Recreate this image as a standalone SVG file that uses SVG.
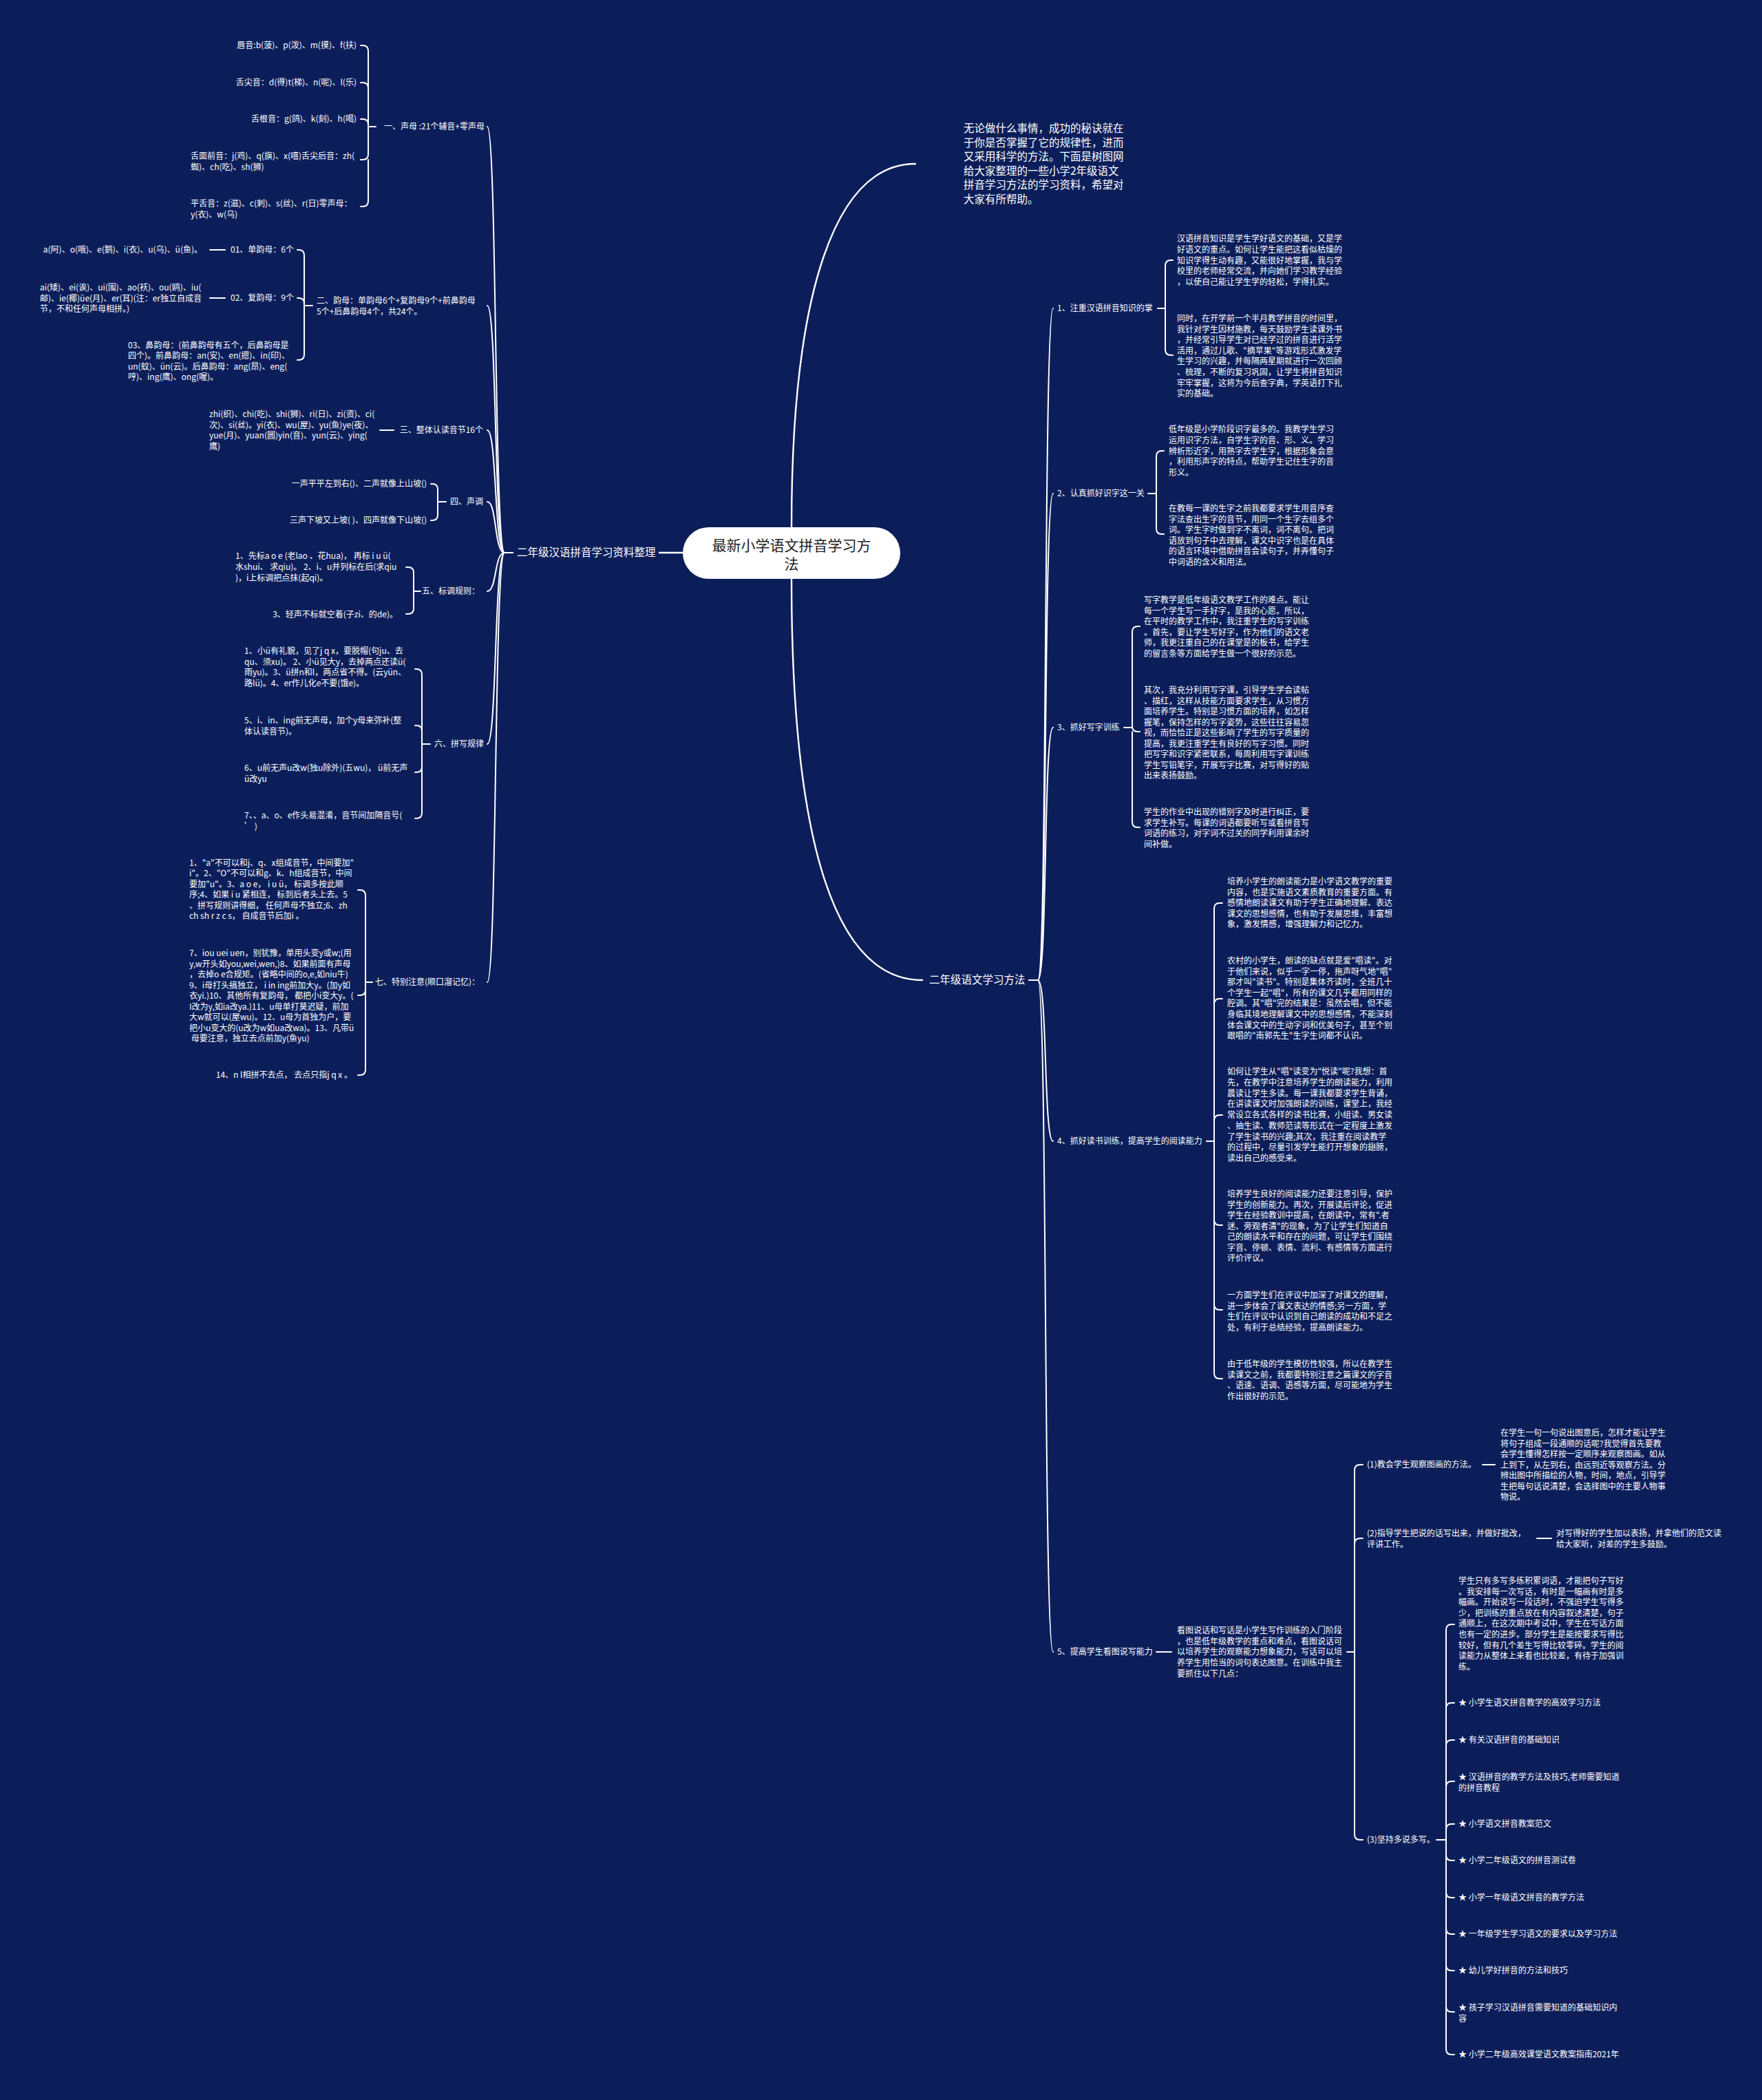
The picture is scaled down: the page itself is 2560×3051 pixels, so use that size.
<svg xmlns="http://www.w3.org/2000/svg" width="2560" height="3051" viewBox="0 0 2560 3051">
<style>
.t{font-family:"Noto Sans CJK SC","Noto Sans",sans-serif;font-size:12px;fill:#ffffff}
.m{font-size:15.5px}
.e{text-anchor:end}
.ln{fill:none;stroke:#ffffff;stroke-width:2;stroke-linecap:round}
.lm{fill:none;stroke:#ffffff;stroke-width:2.4;stroke-linecap:round}
</style>
<rect width="2560" height="3051" fill="#0c1e5a"/>
<g id="connectors">
<path class="lm" d="M1150,766 C1150,420 1215,238 1330,238"/>
<path class="lm" d="M1150,841 C1150,1230 1215,1424 1340,1424"/>
<path class="lm" d="M992,803 H958"/>
<path class="ln" d="M1495,1424 H1508 C1522,1424 1516,448 1530,448"/>
<path class="ln" d="M1495,1424 H1508 C1522,1424 1516,717 1530,717"/>
<path class="ln" d="M1495,1424 H1508 C1522,1424 1516,1057 1530,1057"/>
<path class="ln" d="M1495,1424 H1508 C1522,1424 1516,1658 1530,1658"/>
<path class="ln" d="M1495,1424 H1508 C1522,1424 1516,2400 1530,2400"/>
<path class="ln" d="M745,803 H733 C718,803 722,184 708,184"/>
<path class="ln" d="M745,803 H733 C718,803 722,444 708,444"/>
<path class="ln" d="M745,803 H733 C718,803 722,625 708,625"/>
<path class="ln" d="M745,803 H733 C718,803 722,729 708,729"/>
<path class="ln" d="M745,803 H733 C718,803 722,859 708,859"/>
<path class="ln" d="M745,803 H733 C718,803 722,1081 708,1081"/>
<path class="ln" d="M745,803 H733 C718,803 722,1427 708,1427"/>
<path class="ln" d="M1682,448 H1693 V386 Q1693,378 1701,378 H1704 M1693,448 V508 Q1693,516 1701,516 H1704"/>
<path class="ln" d="M1668,717 H1680 V663 Q1680,655 1688,655 H1691 M1680,717 V768 Q1680,776 1688,776 H1691"/>
<path class="ln" d="M1633,1057 H1645 V918 Q1645,910 1653,910 H1656 M1645,1057 V1055 Q1645,1063 1653,1063 H1656 M1645,1063 V1194 Q1645,1202 1653,1202 H1656"/>
<path class="ln" d="M1753,1658 H1764 V1320 Q1764,1312 1772,1312 H1776 M1764,1459 Q1764,1451 1772,1451 H1776 M1764,1628 Q1764,1620 1772,1620 H1776 M1764,1772 Q1764,1780 1772,1780 H1776 M1764,1895 Q1764,1903 1772,1903 H1776 M1764,1658 V1995 Q1764,2003 1772,2003 H1776"/>
<path class="ln" d="M1680,2400 H1702"/>
<path class="ln" d="M1957,2400 H1968 V2136 Q1968,2128 1976,2128 H1980 M1968,2243 Q1968,2235 1976,2235 H1980 M1968,2400 V2665 Q1968,2673 1976,2673 H1980"/>
<path class="ln" d="M2154,2128 H2172"/>
<path class="ln" d="M2233,2235 H2254"/>
<path class="ln" d="M2087,2673 H2101 V2368 Q2101,2360 2109,2360 H2113 M2101,2482 Q2101,2474 2109,2474 H2113 M2101,2536 Q2101,2528 2109,2528 H2113 M2101,2596 Q2101,2588 2109,2588 H2113 M2101,2658 Q2101,2650 2109,2650 H2113 M2101,2695 Q2101,2703 2109,2703 H2113 M2101,2749 Q2101,2757 2109,2757 H2113 M2101,2802 Q2101,2810 2109,2810 H2113 M2101,2855 Q2101,2863 2109,2863 H2113 M2101,2915 Q2101,2923 2109,2923 H2113 M2101,2673 V2977 Q2101,2985 2109,2985 H2113"/>
<path class="ln" d="M546,184 H535 V74 Q535,66 527,66 H524 M535,128 Q535,120 527,120 H524 M535,181 Q535,173 527,173 H524 M535,184 V224 Q535,232 527,232 H524 M535,232 V292 Q535,300 527,300 H524"/>
<path class="ln" d="M454,444 H442 V371 Q442,363 434,363 H432 M442,441 Q442,433 434,433 H432 M442,444 V515 Q442,523 434,523 H432"/>
<path class="ln" d="M327,363 H305 M327,433 H305"/>
<path class="ln" d="M572,625 H552"/>
<path class="ln" d="M648,729 H636 V711 Q636,703 628,703 H626 M636,729 V748 Q636,756 628,756 H626"/>
<path class="ln" d="M611,859 H601 V832 Q601,824 593,824 H590 M601,859 V884 Q601,892 593,892 H590"/>
<path class="ln" d="M625,1081 H613 V980 Q613,972 605,972 H603 M613,1062 Q613,1054 605,1054 H603 M613,1114 Q613,1122 605,1122 H603 M613,1081 V1181 Q613,1189 605,1189 H603"/>
<path class="ln" d="M541,1427 H531 V1301 Q531,1293 523,1293 H520 M531,1438 Q531,1446 523,1446 H520 M531,1427 V1554 Q531,1562 523,1562 H520"/>
</g>
<g id="root">
<rect x="992" y="766" width="316" height="75" rx="37.5" fill="#ffffff"/>
<text x="1150" y="800" text-anchor="middle" style="font-family:'Noto Sans CJK SC',sans-serif;font-size:21px;fill:#222222">最新小学语文拼音学习方</text>
<text x="1150" y="827" text-anchor="middle" style="font-family:'Noto Sans CJK SC',sans-serif;font-size:21px;fill:#222222">法</text>
</g>
<g id="intro">
<text class="t m" x="1400" y="192"><tspan x="1400" dy="0">无论做什么事情，成功的秘诀就在</tspan><tspan x="1400" dy="20.6">于你是否掌握了它的规律性，进而</tspan><tspan x="1400" dy="20.6">又采用科学的方法。下面是树图网</tspan><tspan x="1400" dy="20.6">给大家整理的一些小学2年级语文</tspan><tspan x="1400" dy="20.6">拼音学习方法的学习资料，希望对</tspan><tspan x="1400" dy="20.6">大家有所帮助。</tspan></text>
</g>
<g id="right-main"><text class="t m" x="1350" y="1429">二年级语文学习方法</text></g>
<g id="left-main"><text class="t m" x="751" y="808">二年级汉语拼音学习资料整理</text></g>

<g id="r1"><text class="t" x="1536" y="452">1、注重汉语拼音知识的掌</text></g>
<g id="r1a"><text class="t" x="1710" y="351"><tspan x="1710" dy="0">汉语拼音知识是学生学好语文的基础，又是学</tspan><tspan x="1710" dy="15.8">好语文的重点。如何让学生能把这看似枯燥的</tspan><tspan x="1710" dy="15.8">知识学得生动有趣，又能很好地掌握，我与学</tspan><tspan x="1710" dy="15.8">校里的老师经常交流，并向她们学习教学经验</tspan><tspan x="1710" dy="15.8">，以使自己能让学生学的轻松，学得扎实。</tspan></text></g>
<g id="r1b"><text class="t" x="1710" y="467"><tspan x="1710" dy="0">同时，在开学前一个半月教学拼音的时间里，</tspan><tspan x="1710" dy="15.6">我针对学生因材施教，每天鼓励学生读课外书</tspan><tspan x="1710" dy="15.6">，并经常引导学生对已经学过的拼音进行活学</tspan><tspan x="1710" dy="15.6">活用，通过儿歌、"摘苹果"等游戏形式激发学</tspan><tspan x="1710" dy="15.6">生学习的兴趣，并每隔两星期就进行一次回顾</tspan><tspan x="1710" dy="15.6">、梳理，不断的复习巩固，让学生将拼音知识</tspan><tspan x="1710" dy="15.6">牢牢掌握，这将为今后查字典，学英语打下扎</tspan><tspan x="1710" dy="15.6">实的基础。</tspan></text></g>

<g id="r2"><text class="t" x="1536" y="721">2、认真抓好识字这一关</text></g>
<g id="r2a"><text class="t" x="1698" y="628"><tspan x="1698" dy="0">低年级是小学阶段识字最多的。我教学生学习</tspan><tspan x="1698" dy="15.75">运用识字方法，自学生字的音、形、义。学习</tspan><tspan x="1698" dy="15.75">辨析形近字，用熟字去学生字，根据形象会意</tspan><tspan x="1698" dy="15.75">，利用形声字的特点，帮助学生记住生字的音</tspan><tspan x="1698" dy="15.75">形义。</tspan></text></g>
<g id="r2b"><text class="t" x="1698" y="743"><tspan x="1698" dy="0">在教每一课的生字之前我都要求学生用音序查</tspan><tspan x="1698" dy="15.6">字法查出生字的音节，用同一个生字去组多个</tspan><tspan x="1698" dy="15.6">词。学生字时做到字不离词，词不离句。把词</tspan><tspan x="1698" dy="15.6">语放到句子中去理解，课文中识字也是在具体</tspan><tspan x="1698" dy="15.6">的语言环境中借助拼音会读句子，并弄懂句子</tspan><tspan x="1698" dy="15.6">中词语的含义和用法。</tspan></text></g>

<g id="r3"><text class="t" x="1536" y="1061">3、抓好写字训练</text></g>
<g id="r3a"><text class="t" x="1662" y="876"><tspan x="1662" dy="0">写字教学是低年级语文教学工作的难点。能让</tspan><tspan x="1662" dy="15.6">每一个学生写一手好字，是我的心愿。所以，</tspan><tspan x="1662" dy="15.6">在平时的教学工作中，我注重学生的写字训练</tspan><tspan x="1662" dy="15.6">。首先，要让学生写好字，作为他们的语文老</tspan><tspan x="1662" dy="15.6">师，我更注重自己的在课堂是的板书，给学生</tspan><tspan x="1662" dy="15.6">的留言条等方面给学生做一个很好的示范。</tspan></text></g>
<g id="r3b"><text class="t" x="1662" y="1007"><tspan x="1662" dy="0">其次，我充分利用写字课，引导学生学会读帖</tspan><tspan x="1662" dy="15.5">、描红，这样从技能方面要求学生，从习惯方</tspan><tspan x="1662" dy="15.5">面培养学生。特别是习惯方面的培养，如怎样</tspan><tspan x="1662" dy="15.5">握笔，保持怎样的写字姿势，这些往往容易忽</tspan><tspan x="1662" dy="15.5">视，而恰恰正是这些影响了学生的写字质量的</tspan><tspan x="1662" dy="15.5">提高，我更注重学生有良好的写字习惯。同时</tspan><tspan x="1662" dy="15.5">把写字和识字紧密联系，每周利用写字课训练</tspan><tspan x="1662" dy="15.5">学生写铅笔字，开展写字比赛，对写得好的贴</tspan><tspan x="1662" dy="15.5">出来表扬鼓励。</tspan></text></g>
<g id="r3c"><text class="t" x="1662" y="1184"><tspan x="1662" dy="0">学生的作业中出现的错别字及时进行纠正，要</tspan><tspan x="1662" dy="15.6">求学生补写。每课的词语都要听写或看拼音写</tspan><tspan x="1662" dy="15.6">词语的练习，对字词不过关的同学利用课余时</tspan><tspan x="1662" dy="15.6">间补做。</tspan></text></g>

<g id="r4"><text class="t" x="1536" y="1662">4、抓好读书训练，提高学生的阅读能力</text></g>
<g id="r4a"><text class="t" x="1783" y="1285"><tspan x="1783" dy="0">培养小学生的朗读能力是小学语文教学的重要</tspan><tspan x="1783" dy="15.6">内容，也是实施语文素质教育的重要方面。有</tspan><tspan x="1783" dy="15.6">感情地朗读课文有助于学生正确地理解、表达</tspan><tspan x="1783" dy="15.6">课文的思想感情，也有助于发展思维，丰富想</tspan><tspan x="1783" dy="15.6">象，激发情感，增强理解力和记忆力。</tspan></text></g>
<g id="r4b"><text class="t" x="1783" y="1400"><tspan x="1783" dy="0">农村的小学生，朗读的缺点就是爱"唱读"。对</tspan><tspan x="1783" dy="15.6">于他们来说，似乎一字一停，拖声呀气地"唱"</tspan><tspan x="1783" dy="15.6">那才叫"读书"。特别是集体齐读时，全班几十</tspan><tspan x="1783" dy="15.6">个学生一起"唱"，所有的课文几乎都用同样的</tspan><tspan x="1783" dy="15.6">腔调。其"唱"完的结果是：虽然会唱，但不能</tspan><tspan x="1783" dy="15.6">身临其境地理解课文中的思想感情，不能深刻</tspan><tspan x="1783" dy="15.6">体会课文中的生动字词和优美句子，甚至个别</tspan><tspan x="1783" dy="15.6">跟唱的"南郭先生"生字生词都不认识。</tspan></text></g>
<g id="r4c"><text class="t" x="1783" y="1561"><tspan x="1783" dy="0">如何让学生从"唱"读变为"悦读"呢?我想：首</tspan><tspan x="1783" dy="15.75">先，在教学中注意培养学生的朗读能力，利用</tspan><tspan x="1783" dy="15.75">晨读让学生多读。每一课我都要求学生背诵，</tspan><tspan x="1783" dy="15.75">在讲读课文时加强朗读的训练，课堂上，我经</tspan><tspan x="1783" dy="15.75">常设立各式各样的读书比赛，小组读、男女读</tspan><tspan x="1783" dy="15.75">、抽生读、教师范读等形式在一定程度上激发</tspan><tspan x="1783" dy="15.75">了学生读书的兴趣;其次，我注重在阅读教学</tspan><tspan x="1783" dy="15.75">的过程中，尽量引发学生能打开想象的翅膀，</tspan><tspan x="1783" dy="15.75">读出自己的感受来。</tspan></text></g>
<g id="r4d"><text class="t" x="1783" y="1739"><tspan x="1783" dy="0">培养学生良好的阅读能力还要注意引导，保护</tspan><tspan x="1783" dy="15.5">学生的创新能力。再次，开展读后评论，促进</tspan><tspan x="1783" dy="15.5">学生在经验教训中提高，在朗读中，常有".者</tspan><tspan x="1783" dy="15.5">迷、旁观者清"的现象，为了让学生们知道自</tspan><tspan x="1783" dy="15.5">己的朗读水平和存在的问题，可让学生们围绕</tspan><tspan x="1783" dy="15.5">字音、停顿、表情、流利、有感情等方面进行</tspan><tspan x="1783" dy="15.5">评价评议。</tspan></text></g>
<g id="r4e"><text class="t" x="1783" y="1886"><tspan x="1783" dy="0">一方面学生们在评议中加深了对课文的理解，</tspan><tspan x="1783" dy="15.5">进一步体会了课文表达的情感;另一方面，学</tspan><tspan x="1783" dy="15.5">生们在评议中认识到自己朗读的成功和不足之</tspan><tspan x="1783" dy="15.5">处，有利于总结经验，提高朗读能力。</tspan></text></g>
<g id="r4f"><text class="t" x="1783" y="1986"><tspan x="1783" dy="0">由于低年级的学生模仿性较强，所以在教学生</tspan><tspan x="1783" dy="15.5">读课文之前，我都要特别注意之篇课文的字音</tspan><tspan x="1783" dy="15.5">、语速、语调、语感等方面，尽可能地为学生</tspan><tspan x="1783" dy="15.5">作出很好的示范。</tspan></text></g>

<g id="r5"><text class="t" x="1536" y="2404">5、提高学生看图说写能力</text></g>
<g id="r5a"><text class="t" x="1710" y="2373"><tspan x="1710" dy="0">看图说话和写话是小学生写作训练的入门阶段</tspan><tspan x="1710" dy="15.7">，也是低年级教学的重点和难点，看图说话可</tspan><tspan x="1710" dy="15.7">以培养学生的观察能力想象能力，写话可以培</tspan><tspan x="1710" dy="15.7">养学生用恰当的词句表达图意。在训练中我主</tspan><tspan x="1710" dy="15.7">要抓住以下几点：</tspan></text></g>
<g id="r5-1"><text class="t" x="1986" y="2132">(1)教会学生观察图画的方法。</text></g>
<g id="r5-1a"><text class="t" x="2180" y="2086"><tspan x="2180" dy="0">在学生一句一句说出图意后，怎样才能让学生</tspan><tspan x="2180" dy="15.5">将句子组成一段通顺的话呢?我觉得首先要教</tspan><tspan x="2180" dy="15.5">会学生懂得怎样按一定顺序来观察图画。如从</tspan><tspan x="2180" dy="15.5">上到下，从左到右，由远到近等观察方法。分</tspan><tspan x="2180" dy="15.5">辨出图中所描绘的人物，时间，地点，引导学</tspan><tspan x="2180" dy="15.5">生把每句话说清楚，会选择图中的主要人物事</tspan><tspan x="2180" dy="15.5">物说。</tspan></text></g>
<g id="r5-2"><text class="t" x="1986" y="2232"><tspan x="1986" dy="0">(2)指导学生把说的话写出来，并做好批改，</tspan><tspan x="1986" dy="15.7">评讲工作。</tspan></text></g>
<g id="r5-2a"><text class="t" x="2261" y="2232"><tspan x="2261" dy="0">对写得好的学生加以表扬，并拿他们的范文读</tspan><tspan x="2261" dy="15.7">给大家听，对差的学生多鼓励。</tspan></text></g>
<g id="r5-3"><text class="t" x="1986" y="2677">(3)坚持多说多写。</text></g>
<g id="r5-3a"><text class="t" x="2119" y="2301"><tspan x="2119" dy="0">学生只有多写多练积累词语，才能把句子写好</tspan><tspan x="2119" dy="15.6">。我安排每一次写话，有时是一幅画有时是多</tspan><tspan x="2119" dy="15.6">幅画。开始说写一段话时，不强迫学生写得多</tspan><tspan x="2119" dy="15.6">少，把训练的重点放在有内容叙述清楚，句子</tspan><tspan x="2119" dy="15.6">通顺上，在这次期中考试中，学生在写话方面</tspan><tspan x="2119" dy="15.6">也有一定的进步。部分学生是能按要求写得比</tspan><tspan x="2119" dy="15.6">较好，但有几个差生写得比较零碎。学生的阅</tspan><tspan x="2119" dy="15.6">读能力从整体上来看也比较差，有待于加强训</tspan><tspan x="2119" dy="15.6">练。</tspan></text></g>
<g id="s1"><text class="t" x="2119" y="2478">★ 小学生语文拼音教学的高效学习方法</text></g>
<g id="s2"><text class="t" x="2119" y="2532">★ 有关汉语拼音的基础知识</text></g>
<g id="s3"><text class="t" x="2119" y="2586"><tspan x="2119" dy="0">★ 汉语拼音的教学方法及技巧,老师需要知道</tspan><tspan x="2119" dy="15.5">的拼音教程</tspan></text></g>
<g id="s4"><text class="t" x="2119" y="2654">★ 小学语文拼音教案范文</text></g>
<g id="s5"><text class="t" x="2119" y="2707">★ 小学二年级语文的拼音测试卷</text></g>
<g id="s6"><text class="t" x="2119" y="2761">★ 小学一年级语文拼音的教学方法</text></g>
<g id="s7"><text class="t" x="2119" y="2814">★ 一年级学生学习语文的要求以及学习方法</text></g>
<g id="s8"><text class="t" x="2119" y="2867">★ 幼儿学好拼音的方法和技巧</text></g>
<g id="s9"><text class="t" x="2119" y="2921"><tspan x="2119" dy="0">★ 孩子学习汉语拼音需要知道的基础知识内</tspan><tspan x="2119" dy="15.5">容</tspan></text></g>
<g id="s10"><text class="t" x="2119" y="2989">★ 小学二年级高效课堂语文教案指南2021年</text></g>

<g id="l1"><text class="t e" x="704" y="188">一、声母 :21个辅音+零声母</text></g>
<g id="l1a"><text class="t e" x="518" y="70">唇音:b(菠)、p(泼)、m(摸)、f(扶)</text></g>
<g id="l1b"><text class="t e" x="518" y="124">舌尖音：d(得)t(梯)、n(呢)、l(乐)</text></g>
<g id="l1c"><text class="t e" x="518" y="177">舌根音：g(鸽)、k(刻)、h(喝)</text></g>
<g id="l1d"><text class="t" x="277" y="231"><tspan x="277" dy="0">舌面前音：j(鸡)、q(旗)、x(嘻)舌尖后音：zh(</tspan><tspan x="277" dy="15.5">蜘)、ch(吃)、sh(狮)</tspan></text></g>
<g id="l1e"><text class="t" x="277" y="300"><tspan x="277" dy="0">平舌音：z(滋)、c(刺)、s(丝)、r(日)零声母：</tspan><tspan x="277" dy="15.5">y(衣)、w(乌)</tspan></text></g>

<g id="l2"><text class="t" x="460" y="441"><tspan x="460" dy="0">二、韵母：单韵母6个+复韵母9个+前鼻韵母</tspan><tspan x="460" dy="15.6">5个+后鼻韵母4个，共24个。</tspan></text></g>
<g id="l2-1"><text class="t e" x="427" y="367">01、单韵母：6个</text></g>
<g id="l2-1a"><text class="t e" x="294" y="367">a(阿)、o(哦)、e(鹅)、i(衣)、u(乌)、ü(鱼)。</text></g>
<g id="l2-2"><text class="t e" x="427" y="437">02、复韵母：9个</text></g>
<g id="l2-2a"><text class="t" x="58" y="422"><tspan x="58" dy="0">ai(矮)、ei(诶)、ui(围)、ao(袄)、ou(鸥)、iu(</tspan><tspan x="58" dy="15.5">邮)、ie(椰)üe(月)、er(耳)(注：er独立自成音</tspan><tspan x="58" dy="15.5">节，不和任何声母相拼。)</tspan></text></g>
<g id="l2-3"><text class="t" x="186" y="506"><tspan x="186" dy="0">03、鼻韵母：(前鼻韵母有五个，后鼻韵母是</tspan><tspan x="186" dy="15.4">四个)。前鼻韵母：an(安)、en(摁)、in(印)、</tspan><tspan x="186" dy="15.4">un(蚊)、ün(云)。后鼻韵母：ang(昂)、eng(</tspan><tspan x="186" dy="15.4">哼)、ing(鹰)、ong(喔)。</tspan></text></g>

<g id="l3"><text class="t e" x="702" y="629">三、整体认读音节16个</text></g>
<g id="l3a"><text class="t" x="304" y="606"><tspan x="304" dy="0">zhi(织)、chi(吃)、shi(狮)、ri(日)、zi(资)、ci(</tspan><tspan x="304" dy="15.6">次)、si(丝)。yi(衣)、wu(屋)、yu(鱼)ye(夜)、</tspan><tspan x="304" dy="15.6">yue(月)、yuan(圆)yin(音)、yun(云)、ying(</tspan><tspan x="304" dy="15.6">鹰)</tspan></text></g>

<g id="l4"><text class="t e" x="702" y="733">四、声调</text></g>
<g id="l4a"><text class="t e" x="620" y="707">一声平平左到右()、二声就像上山坡()</text></g>
<g id="l4b"><text class="t e" x="620" y="760">三声下坡又上坡( )、四声就像下山坡()</text></g>

<g id="l5"><text class="t e" x="697" y="863">五、标调规则：</text></g>
<g id="l5a"><text class="t" x="342" y="812"><tspan x="342" dy="0">1、先标a o e (老lao 、花hua)， 再标 i u ü(</tspan><tspan x="342" dy="15.8">水shui、 求qiu)。 2、i、u并列标在后(求qiu</tspan><tspan x="342" dy="15.8">)，i上标调把点抹(起qi)。</tspan></text></g>
<g id="l5b"><text class="t e" x="578" y="897">3、轻声不标就空着(子zi、的de)。</text></g>

<g id="l6"><text class="t e" x="703" y="1085">六、拼写规律</text></g>
<g id="l6a"><text class="t" x="355" y="950"><tspan x="355" dy="0">1、小ü有礼貌，见了j q x，要脱帽(句ju、去</tspan><tspan x="355" dy="15.6">qu、须xu)。 2、小ü见大y，去掉两点还读ü(</tspan><tspan x="355" dy="15.6">雨yu)。3、ü拼n和l，两点省不得。(云yün、</tspan><tspan x="355" dy="15.6">路lü)。4、er作儿化e不要(饿e)。</tspan></text></g>
<g id="l6b"><text class="t" x="355" y="1051"><tspan x="355" dy="0">5、i、in、ing前无声母，加个y母来弥补(整</tspan><tspan x="355" dy="15.6">体认读音节)。</tspan></text></g>
<g id="l6c"><text class="t" x="355" y="1120"><tspan x="355" dy="0">6、u前无声u改w(独u除外)(五wu)， ü前无声</tspan><tspan x="355" dy="15.6">ü改yu</tspan></text></g>
<g id="l6d"><text class="t" x="355" y="1189"><tspan x="355" dy="0">7、、a、o、e作头易混淆，音节间加隔音号(</tspan><tspan x="355" dy="15.6">’ )</tspan></text></g>

<g id="l7"><text class="t e" x="697" y="1431">七、特别注意(顺口溜记忆)：</text></g>
<g id="l7a"><text class="t" x="275" y="1258"><tspan x="275" dy="0">1、"a"不可以和j、q、x组成音节，中间要加"</tspan><tspan x="275" dy="15.4">i"。2、"O"不可以和g、k、h组成音节，中间</tspan><tspan x="275" dy="15.4">要加"u"。3、a o e， i u ü， 标调多按此顺</tspan><tspan x="275" dy="15.4">序;4、如果 i u 紧相连， 标到后者头上去。5</tspan><tspan x="275" dy="15.4">、拼写规则讲得细， 任何声母不独立;6、zh</tspan><tspan x="275" dy="15.4">ch sh r z c s， 自成音节后加i 。</tspan></text></g>
<g id="l7b"><text class="t" x="275" y="1389"><tspan x="275" dy="0">7、iou uei uen，别犹豫，单用头变y或w;(用</tspan><tspan x="275" dy="15.5">y,w开头如you,wei,wen,)8、如果前面有声母</tspan><tspan x="275" dy="15.5">，去掉o e合规矩。(省略中间的o,e,如niu牛)</tspan><tspan x="275" dy="15.5">9、i母打头搞独立， i in ing前加大y。(加y如</tspan><tspan x="275" dy="15.5">衣yi.)10、其他所有复韵母， 都把小i变大y。(</tspan><tspan x="275" dy="15.5">I改为y,如ia改ya.)11、u母单打莫迟疑，前加</tspan><tspan x="275" dy="15.5">大w就可以(屋wu)。12、u母为首独为户，要</tspan><tspan x="275" dy="15.5">把小u变大的(u改为w如ua改wa)。13、凡带ü</tspan><tspan x="275" dy="15.5"> 母要注意，独立去点前加y(鱼yu)</tspan></text></g>
<g id="l7c"><text class="t e" x="512" y="1566">14、n l相拼不去点， 去点只指j q x 。</text></g>
</svg>
